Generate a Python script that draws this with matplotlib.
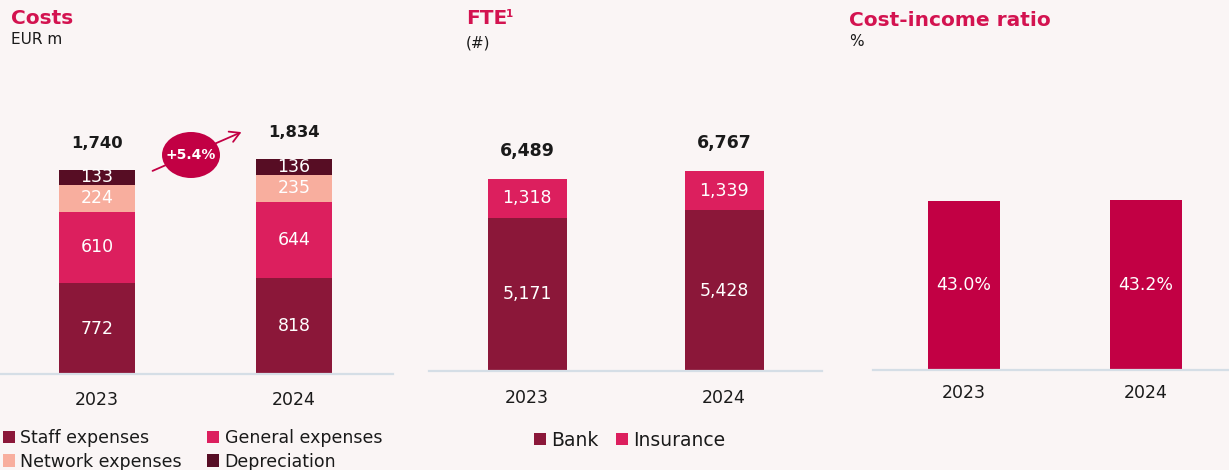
import matplotlib
matplotlib.use("Agg")
import matplotlib.pyplot as plt
from matplotlib.patches import Ellipse, FancyArrowPatch, Patch
from matplotlib.transforms import Affine2D

# ---------------- data ----------------
years = ["2023", "2024"]

cost_series = ["Staff expenses", "General expenses", "Network expenses", "Depreciation"]
staff = [772, 818]
general = [610, 644]
network = [224, 235]
depreciation = [133, 136]
cost_totals = [1740, 1834]
cost_growth = "+5.4%"

fte_series = ["Bank", "Insurance"]
fte_bank = [5171, 5428]
fte_insurance = [1318, 1339]
fte_totals = [6489, 6767]

cir_values = [43.0, 43.2]

# ---------------- style ----------------
W, H, DPI = 1229, 470, 100
BG = "#FAF5F5"
TITLE_C = "#D31350"
TXT = "#1A1A1A"
C_STAFF = "#8B1739"
C_GENERAL = "#DC1F5E"
C_NETWORK = "#F8AE9E"
C_DEPR = "#570D24"
C_CIR = "#C20044"
AXLINE = "#D5DEE6"
FONT = "DejaVu Sans"
plt.rcParams["font.family"] = [FONT]

fig = plt.figure(figsize=(W / DPI, H / DPI), dpi=DPI, facecolor=BG)
# pixel transform (origin top-left)
px = Affine2D().scale(1 / W, -1 / H).translate(0, 1) + fig.transFigure


def add_panel(x0, x1, baseline, top, c0, spacing, px_per_unit):
    ax = fig.add_axes([x0 / W, 1 - baseline / H, (x1 - x0) / W, (baseline - top) / H])
    ax.set_facecolor("none")
    ax.set_xlim((x0 - c0) / spacing, (x1 - c0) / spacing)
    ax.set_ylim(0, (baseline - top) / px_per_unit)
    for s in ["top", "right", "left"]:
        ax.spines[s].set_visible(False)
    ax.spines["bottom"].set_color(AXLINE)
    ax.spines["bottom"].set_linewidth(1.6)
    ax.set_yticks([])
    ax.set_xticks(range(len(years)))
    ax.set_xticklabels(years, fontsize=12.5, color=TXT)
    ax.tick_params(axis="x", length=0, pad=12)
    return ax


def seg_labels(ax, x, bottoms, vals, fmt):
    for xi, b, v in zip(x, bottoms, vals):
        ax.text(xi, b + v / 2, fmt(v), ha="center", va="center", color="white",
                fontsize=12.5, fontweight="normal")


def total_labels(ax, x, tops, offset_px, size):
    for xi, t in zip(x, tops):
        ax.annotate(f"{t:,}", (xi, t), xytext=(0, offset_px * 72 / DPI),
                    textcoords="offset points", ha="center", va="center",
                    fontsize=size, fontweight="bold", color=TXT)


x = list(range(len(years)))

# ---------------- Costs ----------------
ax1 = add_panel(0, 393, 374, 60, 97, 197, 0.1175)
bw1 = 76 / 197
b = [0, 0]
for vals, col in zip([staff, general, network, depreciation],
                     [C_STAFF, C_GENERAL, C_NETWORK, C_DEPR]):
    ax1.bar(x, vals, bw1, bottom=b, color=col, edgecolor="none")
    seg_labels(ax1, x, b, vals, lambda v: f"{v:,}")
    b = [bi + vi for bi, vi in zip(b, vals)]
total_labels(ax1, x, cost_totals, 26, 11.8)

fig.text(11 / W, 1 - 18 / H, "Costs", fontsize=14.5, fontweight="bold", color=TITLE_C,
         ha="left", va="center")
fig.text(11 / W, 1 - 40 / H, "EUR m", fontsize=11, color=TXT, ha="left", va="center")

# growth annotation
arr = FancyArrowPatch((150, 172), (244, 131), transform=px, arrowstyle="->,head_length=7,head_width=4",
                      color=C_CIR, lw=1.3, mutation_scale=1)
fig.add_artist(arr)
ell = Ellipse((191, 155), 58, 46, transform=px, facecolor=C_CIR, edgecolor="none")
fig.add_artist(ell)
fig.text(191 / W, 1 - 155 / H, cost_growth, fontsize=10, fontweight="bold", color="white",
         ha="center", va="center")

# costs legend
handles = [Patch(facecolor=c) for c in [C_STAFF, C_NETWORK, C_GENERAL, C_DEPR]]
labels = [cost_series[0], cost_series[2], cost_series[1], cost_series[3]]
fig.legend(handles, labels, ncol=2, loc="upper left", bbox_to_anchor=(3, 429), bbox_transform=px,
           frameon=False, fontsize=12.5, handlelength=0.7, handleheight=0.7, handletextpad=0.3,
           columnspacing=1.45, labelspacing=0.32, borderpad=0, borderaxespad=0,
           labelcolor=TXT)

# ---------------- FTE ----------------
ax2 = add_panel(429, 822, 371, 60, 527, 197, 0.02959)
bw2 = 79 / 197
ax2.bar(x, fte_bank, bw2, color=C_STAFF, edgecolor="none", label=fte_series[0])
ax2.bar(x, fte_insurance, bw2, bottom=fte_bank, color=C_GENERAL, edgecolor="none", label=fte_series[1])
seg_labels(ax2, x, [0, 0], fte_bank, lambda v: f"{v:,}")
seg_labels(ax2, x, fte_bank, fte_insurance, lambda v: f"{v:,}")
total_labels(ax2, x, fte_totals, 28, 12.5)
ax2.tick_params(axis="x", pad=13)

fig.text(466 / W, 1 - 19 / H, "FTE", fontsize=14.5, fontweight="bold",
         color=TITLE_C, ha="left", va="center")
fig.text(506 / W, 1 - 14 / H, "1", fontsize=7.5, fontweight="bold",
         color=TITLE_C, ha="left", va="center")
fig.text(466 / W, 1 - 43 / H, "(#)", fontsize=11, color=TXT, ha="left", va="center")
fig.legend(handles=[Patch(facecolor=C_STAFF), Patch(facecolor=C_GENERAL)], labels=fte_series,
           ncol=2, loc="center left", bbox_to_anchor=(534, 440), bbox_transform=px, frameon=False,
           fontsize=13.5, handlelength=0.65, handleheight=0.65, handletextpad=0.25,
           columnspacing=0.95, borderpad=0, borderaxespad=0, labelcolor=TXT)

# ---------------- Cost-income ratio ----------------
ax3 = add_panel(873, 1229, 370, 60, 964, 182, 3.94)
bw3 = 72 / 182
ax3.bar(x, cir_values, bw3, color=C_CIR, edgecolor="none")
seg_labels(ax3, x, [0, 0], cir_values, lambda v: f"{v:.1f}%")
ax3.tick_params(axis="x", pad=10)

fig.text(849 / W, 1 - 20 / H, "Cost-income ratio", fontsize=14.5, fontweight="bold",
         color=TITLE_C, ha="left", va="center")
fig.text(849 / W, 1 - 42 / H, "%", fontsize=11, color=TXT, ha="left", va="center")

fig.savefig("out.png", dpi=DPI, facecolor=BG)
